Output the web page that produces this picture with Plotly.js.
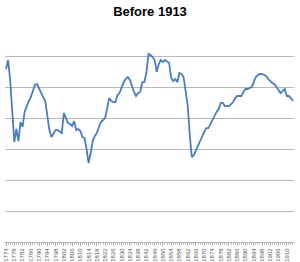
<!DOCTYPE html>
<html>
<head>
<meta charset="utf-8">
<script src="https://cdn.plot.ly/plotly-3.0.1.min.js"></script>
<style>html,body{margin:0;padding:0;background:#fff}#chart{width:300px;height:262px}</style>
</head>
<body>
<div id="chart"></div>
<script>
const startYear = 1774;
const endYear = 1913;
const values = [
111.6,117.4,104.5,83.9,64.5,72.9,65.1,77.4,74.2,83.9,
87.7,90.9,93.5,96.8,101.3,101.9,98.7,96.1,93.5,90.9,
82.6,72.2,67.7,70.3,72.2,72.2,71.0,70.3,83.2,80.0,
76.8,76.1,74.8,78.0,72.2,72.9,71.6,67.7,67.1,60.0,
51.0,57.4,65.1,68.4,70.3,74.2,77.4,78.7,80.0,86.4,
92.9,90.9,90.3,90.3,94.8,96.1,100.0,103.2,105.1,106.4,
104.5,100.0,96.8,94.2,96.1,96.8,103.2,103.2,109.0,121.3,
120.6,119.3,117.4,109.7,114.8,117.4,116.1,117.4,116.7,115.5,
105.8,103.8,105.1,103.2,109.0,108.4,106.4,98.0,88.4,69.0,
54.8,56.1,59.3,61.9,65.1,67.7,71.0,73.5,73.5,76.1,
78.7,81.9,83.9,85.8,89.7,89.7,87.7,87.7,87.7,89.0,
90.3,92.9,94.2,94.2,94.2,96.8,98.7,98.7,99.3,100.0,
103.2,106.4,107.7,108.4,108.4,107.7,107.1,105.1,103.8,102.6,
101.9,100.0,97.4,96.1,97.4,98.7,94.2,94.2,92.9,90.9
];
const years = [];
for (let y = startYear; y <= endYear; y++) years.push(y);
const tickYears = [];
for (let y = startYear; y <= 1910; y += 4) tickYears.push(y);
const tickLabels = tickYears.map(String);

const trace = {
  x: years, y: values, type: 'scatter', mode: 'lines',
  line: {color: '#4a7ebb', width: 1.8}, hoverinfo: 'skip'
};
const layout = {
  width: 300, height: 262,
  margin: {l: 5, r: 6, t: 25, b: 20, pad: 0},
  paper_bgcolor: '#fff', plot_bgcolor: '#fff',
  showlegend: false,
  font: {family: 'Liberation Sans, Arial, sans-serif', color: '#000'},
  title: {text: '<b>Before 1913</b>', font: {size: 13, family: 'Liberation Sans, Arial, sans-serif', color: '#000'},
          x: 0.5, xanchor: 'center', y: 1, yref: 'paper', yanchor: 'bottom', pad: {b: 9}},
  xaxis: {
    range: [startYear - 0.5, endYear + 0.5],
    tickmode: 'array', tickvals: tickYears, ticktext: tickLabels,
    tickangle: -90, tickfont: {size: 6, color: '#555'},
    ticks: 'outside', ticklen: 3, tickcolor: '#b0b0b0',
    minor: {dtick: 1, tick0: startYear, ticks: 'outside', ticklen: 2, tickcolor: '#c0c0c0', showgrid: false},
    showgrid: false, zeroline: false,
    showline: true, linecolor: '#b0b0b0', linewidth: 1, fixedrange: true
  },
  yaxis: {
    range: [0, 140], dtick: 20, tick0: 0,
    showticklabels: false, ticks: '',
    showgrid: true, gridcolor: '#b8b8b8', gridwidth: 1,
    zeroline: false, showline: false, fixedrange: true
  }
};
Plotly.newPlot('chart', [trace], layout, {staticPlot: true, displayModeBar: false});
</script>
</body>
</html>
